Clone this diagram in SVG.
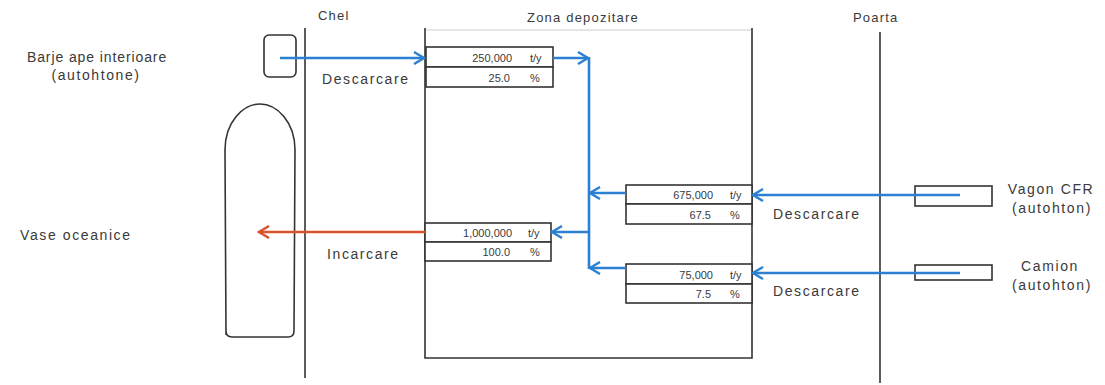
<svg xmlns="http://www.w3.org/2000/svg" width="1105" height="385" viewBox="0 0 1105 385">
<style>
text{font-family:"Liberation Sans",Arial,sans-serif;fill:#3a3a3a}
.lbl{font-size:14px;letter-spacing:1.6px}
.hdr{font-size:13px;letter-spacing:1.2px}
.num{font-size:11px;text-anchor:end}
.unit{font-size:11px}
.line{stroke:#333;stroke-width:1.6;fill:none}
.box{fill:#fff;stroke:#333;stroke-width:1.6}
.blue{stroke:#2b80d2;stroke-width:2.6;fill:none}
.red{stroke:#d9532f;stroke-width:2.6;fill:none}
</style>
<defs>
<marker id="ab" markerWidth="14" markerHeight="14" refX="12" refY="7" orient="auto" markerUnits="userSpaceOnUse">
<path d="M2,1 L12,7 L2,13" fill="none" stroke="#2b80d2" stroke-width="2.4"/>
</marker>
<marker id="ar" markerWidth="14" markerHeight="14" refX="12" refY="7" orient="auto" markerUnits="userSpaceOnUse">
<path d="M2,1 L12,7 L2,13" fill="none" stroke="#d9532f" stroke-width="2.4"/>
</marker>
</defs>
<rect width="1105" height="385" fill="#fff"/>

<g id="zones">
<text class="hdr" x="318" y="20">Chel</text>
<text class="hdr" x="527" y="22">Zona depozitare</text>
<text class="hdr" x="853" y="22">Poarta</text>
<line class="line" x1="305" y1="28" x2="305" y2="378"/>
<line class="line" x1="880" y1="32" x2="880" y2="383"/>
<line x1="426" y1="30" x2="752" y2="30" stroke="#ccc" stroke-width="1"/>
<path class="line" d="M425,28 L425,358 L752,358 L752,28"/>
</g>

<g id="barje">
<rect class="line" x="264" y="35" width="32" height="42" rx="5"/>
<text class="lbl" x="97" y="62" text-anchor="middle" style="letter-spacing:0.9px">Barje ape interioare</text>
<text class="lbl" x="96" y="80" text-anchor="middle">(autohtone)</text>
</g>

<g id="vase">
<path class="line" d="M226,335 L225,150 C225,122 243,104 260,104 C277,104 295,122 295,150 L294,331 Q294,337 288,337 L232,337 Q226,337 226,331"/>
<text class="lbl" x="20" y="240">Vase oceanice</text>
</g>

<g id="box1">
<rect class="box" x="426" y="47" width="127" height="20"/>
<rect class="box" x="426" y="67" width="127" height="20"/>
<text class="num" x="512" y="62">250,000</text><text class="unit" x="530" y="62">t/y</text>
<text class="num" x="510" y="82">25.0</text><text class="unit" x="530" y="82">%</text>
</g>

<g id="box2">
<rect class="box" x="626" y="185" width="126" height="19"/>
<rect class="box" x="626" y="204" width="126" height="20"/>
<text class="num" x="713" y="199">675,000</text><text class="unit" x="730" y="199">t/y</text>
<text class="num" x="711" y="219">67.5</text><text class="unit" x="730" y="219">%</text>
</g>

<g id="box3">
<rect class="box" x="626" y="264" width="126" height="20"/>
<rect class="box" x="626" y="284" width="126" height="19"/>
<text class="num" x="713" y="279">75,000</text><text class="unit" x="730" y="279">t/y</text>
<text class="num" x="711" y="298">7.5</text><text class="unit" x="730" y="298">%</text>
</g>

<g id="box4">
<rect class="box" x="425" y="223" width="126" height="19"/>
<rect class="box" x="425" y="242" width="126" height="19"/>
<text class="num" x="512" y="237">1,000,000</text><text class="unit" x="528" y="237">t/y</text>
<text class="num" x="510" y="256">100.0</text><text class="unit" x="530" y="256">%</text>
</g>

<g id="vagon">
<rect class="line" x="915" y="186" width="77" height="20"/>
<text class="lbl" x="1051" y="194" text-anchor="middle">Vagon CFR</text>
<text class="lbl" x="1052" y="213" text-anchor="middle">(autohton)</text>
</g>

<g id="camion">
<rect class="line" x="915" y="265" width="77" height="15"/>
<text class="lbl" x="1050" y="271" text-anchor="middle">Camion</text>
<text class="lbl" x="1052" y="290" text-anchor="middle">(autohton)</text>
</g>

<g id="labels">
<text class="lbl" x="322" y="84">Descarcare</text>
<text class="lbl" x="327" y="259">Incarcare</text>
<text class="lbl" x="773" y="219">Descarcare</text>
<text class="lbl" x="773" y="296">Descarcare</text>
</g>

<g id="connectors">
<line class="blue" x1="280" y1="58" x2="424" y2="58" marker-end="url(#ab)"/>
<line class="blue" x1="553" y1="58" x2="588" y2="58" marker-end="url(#ab)"/>
<line class="blue" x1="589" y1="57" x2="589" y2="269"/>
<line class="blue" x1="960" y1="195" x2="753" y2="195" marker-end="url(#ab)"/>
<line class="blue" x1="626" y1="193" x2="590" y2="193" marker-end="url(#ab)"/>
<line class="blue" x1="960" y1="273" x2="753" y2="273" marker-end="url(#ab)"/>
<line class="blue" x1="626" y1="268" x2="590" y2="268" marker-end="url(#ab)"/>
<line class="blue" x1="589" y1="232" x2="552" y2="232" marker-end="url(#ab)"/>
<line class="red" x1="425" y1="232" x2="259" y2="232" marker-end="url(#ar)"/>
</g>
</svg>
